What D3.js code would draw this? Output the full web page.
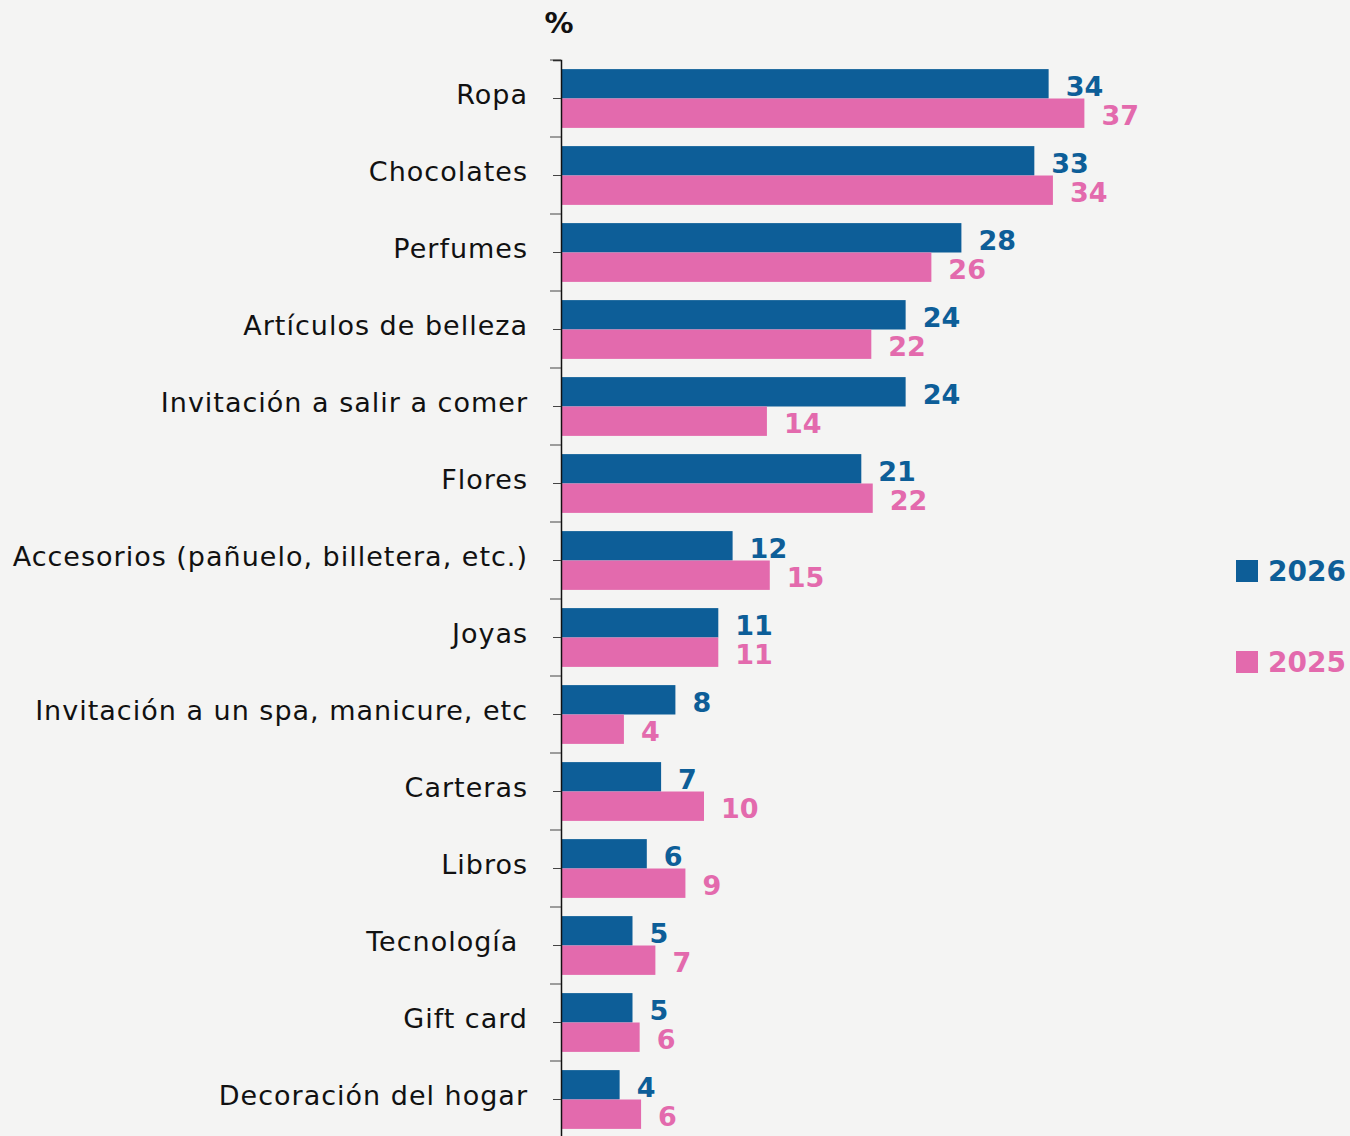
<!DOCTYPE html>
<html>
<head>
<meta charset="utf-8">
<script src="https://cdn.jsdelivr.net/npm/d3@7"></script>
<style>
  body { margin: 0; background: #f4f4f3; }
  svg { display: block; }
  .cat text { font-family: "DejaVu Sans", sans-serif; font-size: 27px; letter-spacing: 1px; fill: #111; white-space: pre; }
  .val { font-family: "DejaVu Sans", sans-serif; font-weight: bold; font-size: 27px; }
</style>
</head>
<body>
<svg id="chart" width="1350" height="1136"></svg>
<script>
// categories, top to bottom
const categories = ["Ropa", "Chocolates", "Perfumes", "Artículos de belleza",
  "Invitación a salir a comer", "Flores", "Accesorios (pañuelo, billetera, etc.)",
  "Joyas", "Invitación a un spa, manicure, etc", "Carteras", "Libros",
  "Tecnología ", "Gift card", "Decoración del hogar"]

// % per year
const values2026 = [34.1, 33.1, 28.0, 24.1, 24.1, 21.0, 12.0, 11.0, 8.0, 7.0, 6.0, 5.0, 5.0, 4.1]
const values2025 = [36.6, 34.4, 25.9, 21.7, 14.4, 21.8, 14.6, 11.0, 4.4, 10.0, 8.7, 6.6, 5.5, 5.6]

const series = ["2026", "2025"]
const colours = {"2026": "#0d5e98", "2025": "#e36aad"}

let svg = d3.select("#chart")

svg.append("rect").attr("width", 1350).attr("height", 1136).attr("fill", "#f4f4f3")

let x = d3.scaleLinear()
          .domain([0, 40])
          .range([561, 561 + 572])

let y = d3.scaleBand()
          .domain(categories)
          .range([60, 60 + 77 * categories.length])

let sub = d3.scaleBand()
            .domain(series)
            .range([0, y.bandwidth()])
            .paddingOuter(0.31)

let rows = categories.map((c, i) => ({cat: c, "2026": values2026[i], "2025": values2025[i]}))

// bars + value labels
svg.append("g")
   .selectAll("g.row")
   .data(rows)
   .join("g")
   .attr("class", "row")
   .attr("transform", d => "translate(0," + y(d.cat) + ")")
   .each(function(d){
     let row = d3.select(this)
     series.forEach(s => {
       row.append("rect")
          .attr("x", x(0))
          .attr("y", sub(s))
          .attr("width", x(d[s]) - x(0))
          .attr("height", sub.bandwidth())
          .attr("fill", colours[s])
       row.append("text")
          .attr("class", "val")
          .attr("x", x(d[s]) + 17)
          .attr("y", sub(s) + sub.bandwidth() / 2 + 2)
          .attr("dy", "0.36em")
          .attr("fill", colours[s])
          .text(Math.round(d[s]))
     })
   })

// axis with labels at centre
let axis = svg.append("g")
              .attr("class", "cat")
              .attr("transform", "translate(561,0)")
              .call(d3.axisLeft(y).tickSize(8).tickPadding(25))
axis.select(".domain").attr("stroke", "#111").attr("stroke-width", 1.5)
axis.selectAll(".tick line").attr("stroke", "#444")
axis.selectAll(".tick text").attr("dy", "0.2em")

// boundary ticks between categories
svg.append("g")
   .selectAll("line")
   .data(categories)
   .join("line")
   .attr("x1", 550).attr("x2", 561)
   .attr("y1", d => y(d)).attr("y2", d => y(d))
   .attr("stroke", "#444")

// unit label
svg.append("text")
   .attr("x", 559).attr("y", 33)
   .attr("text-anchor", "middle")
   .style("font-family", "DejaVu Sans, sans-serif")
   .style("font-weight", "bold")
   .style("font-size", "29px")
   .attr("fill", "#111")
   .text("%")

// legend
svg.append("g")
   .selectAll("g")
   .data(series)
   .join("g")
   .attr("transform", (d, i) => "translate(1236," + (560 + i * 91) + ")")
   .each(function(s){
     let l = d3.select(this)
     l.append("rect").attr("width", 22).attr("height", 22).attr("fill", colours[s])
     l.append("text")
      .attr("x", 32).attr("y", 11).attr("dy", "0.36em")
      .attr("fill", colours[s])
      .style("font-family", "DejaVu Sans, sans-serif")
      .style("font-weight", "bold")
      .style("font-size", "28px")
      .text(s)
   })
</script>
</body>
</html>
